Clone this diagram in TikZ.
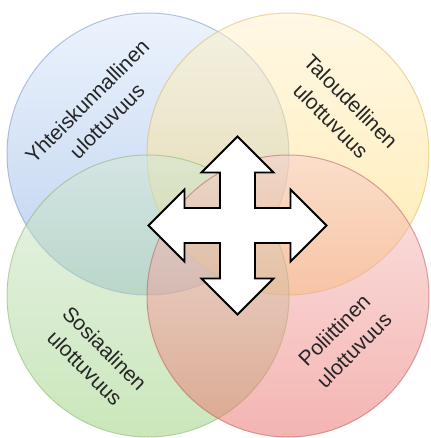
\documentclass[tikz,border=0pt]{standalone}
\usepackage{fontspec}
\setmainfont{Liberation Sans}
\definecolor{blueTop}{HTML}{DAE8FC}
\definecolor{blueBot}{HTML}{7EA6E0}
\definecolor{blueLine}{HTML}{6C8EBF}
\definecolor{yellowTop}{HTML}{FFF2CC}
\definecolor{yellowBot}{HTML}{FFD966}
\definecolor{yellowLine}{HTML}{D6B656}
\definecolor{greenTop}{HTML}{D5E8D4}
\definecolor{greenBot}{HTML}{97D077}
\definecolor{greenLine}{HTML}{82B366}
\definecolor{redTop}{HTML}{F8CECC}
\definecolor{redBot}{HTML}{EA6B66}
\definecolor{redLine}{HTML}{B85450}
\tikzset{
  dim/.style={circle, minimum size=282pt, inner sep=0pt, line width=1pt,
    fill opacity=0.5, draw opacity=0.5},
  dimtext/.style={align=center, font=\fontsize{21}{28}\selectfont, text=black!85}
}
\tikzset{
  crossarrow/.pic={
    \draw[fill=white, line width=1.8pt, line join=miter]
      (0,-89) -- (36,-53) -- (17.5,-53) -- (17.5,-17.5) -- (53,-17.5) -- (53,-36)
      -- (89,0) -- (53,36) -- (53,17.5) -- (17.5,17.5) -- (17.5,53) -- (36,53)
      -- (0,89) -- (-36,53) -- (-17.5,53) -- (-17.5,17.5) -- (-53,17.5) -- (-53,36)
      -- (-89,0) -- (-53,-36) -- (-53,-17.5) -- (-17.5,-17.5) -- (-17.5,-53) -- (-36,-53)
      -- cycle;
  }
}
\begin{document}
\begin{tikzpicture}[x=1pt, y=-1pt]
  \useasboundingbox[fill=white] (0,0) rectangle (430,438);
  % the four dimensions
  \node[dim, draw=blueLine, top color=blueTop, bottom color=blueBot] (blue) at (148,154) {};
  \node[dim, draw=yellowLine, top color=yellowTop, bottom color=yellowBot] (yellow) at (288,154) {};
  \node[dim, draw=greenLine, top color=greenTop, bottom color=greenBot] (green) at (148,296) {};
  \node[dim, draw=redLine, top color=redTop, bottom color=redBot] (red) at (288,296) {};
  % labels
  \node[dimtext, rotate=45] (bluetext) at ([shift={(-51,-43)}]blue.center) {Yhteiskunnallinen\\ulottuvuus};
  \node[dimtext, rotate=-45] (yellowtext) at ([shift={(53,-43)}]yellow.center) {Taloudellinen\\ulottuvuus};
  \node[dimtext, rotate=-45] (greentext) at ([shift={(-53,62)}]green.center) {Sosiaalinen\\ulottuvuus};
  \node[dimtext, rotate=45] (redtext) at ([shift={(56,44)}]red.center) {Poliittinen\\ulottuvuus};
  % arrow in the middle
  \pic at (237.5,225.5) {crossarrow};
\end{tikzpicture}
\end{document}
